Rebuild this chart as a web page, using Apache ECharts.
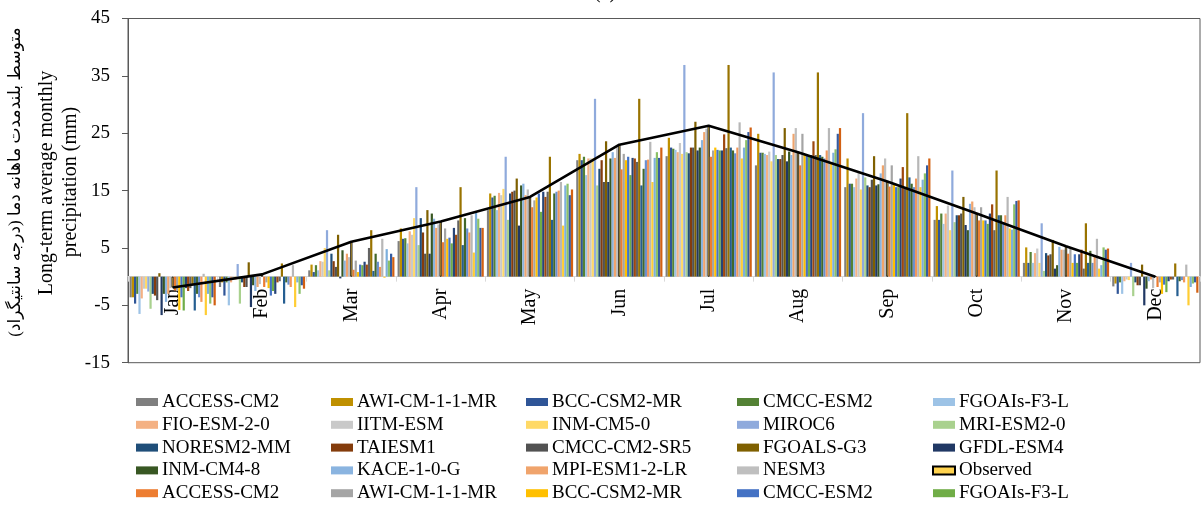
<!DOCTYPE html>
<html>
<head>
<meta charset="utf-8">
<script src="https://cdn.jsdelivr.net/npm/echarts@6/dist/echarts.min.js"></script>
<style>
html,body{margin:0;padding:0;background:#fff;}
#chart{width:1201px;height:506px;}
</style>
</head>
<body>
<div id="chart"></div>
<script>
// ---- data ----
const months = ['Jan','Feb','Mar','Apr','May','Jun','Jul','Aug','Sep','Oct','Nov','Dec'];
const modelNames = ['ACCESS-CM2','AWI-CM-1-1-MR','BCC-CSM2-MR','CMCC-ESM2','FGOAIs-F3-L','FIO-ESM-2-0','IITM-ESM','INM-CM5-0','MIROC6','MRI-ESM2-0','NORESM2-MM','TAIESM1','CMCC-CM2-SR5','FGOALS-G3','GFDL-ESM4','INM-CM4-8','KACE-1-0-G','MPI-ESM1-2-LR','NESM3'];
const observed = [-1.9, 0.4, 6.1, 9.6, 13.9, 23.0, 26.3, 21.7, 16.6, 11.0, 5.3, 0];
const yTicks = [-15, -5, 5, 15, 25, 35, 45];

// per month: first 19 values = model set 1, next 19 values = model set 2
const jan = [-3.6,-3.6,-4.7,-3.0,-6.5,-3.8,-2.1,-2.1,-2.6,-5.6,-3.0,-3.3,-4.1,0.6,-6.7,-3.0,-4.4,-3.0,-2.0,
             -2.4,-2.5,-5.8,-3.6,-5.9,-2.0,-2.5,-2.0,-1.5,-5.9,-3.0,-3.6,-4.4,0.5,-6.7,-3.0,-4.7,-3.6,-5.0];
const feb = [-1.8,-1.0,-3.3,-1.0,-5.0,-1.0,-0.5,-0.5,2.2,-4.7,-1.0,-1.8,-1.8,2.5,-5.3,-1.5,-2.5,-1.8,-1.3,
             -1.8,-1.0,-2.0,-3.3,-2.5,-3.0,-1.0,-0.8,2.3,-4.7,-1.0,-1.4,-1.8,2.0,-5.3,-1.0,-3.0,-1.5,-2.1];
const mar = [1.1,2.1,0.8,2.0,1.1,2.7,2.6,5.0,8.1,1.1,4.0,2.7,1.7,7.3,-0.3,4.6,2.8,4.0,3.4,
             1.2,2.8,0.8,2.1,2.0,2.6,2.1,5.0,8.1,1.0,4.0,2.6,1.7,6.6,-0.2,4.8,2.8,4.0,3.4];
const apr = [6.2,8.4,6.6,6.7,5.8,7.9,7.3,10.2,15.6,5.5,10.2,7.7,4.0,11.6,4.0,11.0,10.1,8.5,9.1,
             6.0,8.4,6.6,6.8,5.8,8.5,7.3,9.8,15.6,5.5,10.2,8.4,7.7,10.7,4.2,11.2,10.1,8.5,8.5];
const may = [11.6,14.5,13.8,14.1,11.6,14.6,14.2,15.3,20.9,9.9,14.5,14.8,15.0,17.1,8.9,15.9,16.2,14.2,15.2,
             12.1,13.3,13.8,14.5,11.3,14.8,13.9,14.8,20.9,9.9,14.5,14.8,15.0,16.5,8.9,15.9,16.2,14.2,15.2];
const jun = [20.3,21.4,20.3,20.9,17.7,20.6,20.6,20.6,31.0,15.9,18.8,20.3,16.5,23.6,16.5,20.6,21.7,20.7,22.9,
             18.7,21.4,20.3,20.9,17.7,20.7,20.6,20.0,31.0,15.9,18.8,20.3,20.4,23.5,16.5,20.7,21.7,20.7,22.5];
const jul = [21.0,24.2,22.5,22.3,22.1,21.7,23.3,21.4,36.9,21.7,21.5,22.5,22.5,27.0,22.0,22.5,23.8,25.2,25.8,
             20.9,22.0,22.5,22.1,22.0,22.0,24.8,22.4,36.9,22.5,22.0,21.5,22.5,26.9,20.6,22.5,23.8,25.2,26.0];
const aug = [19.4,24.9,21.6,21.6,21.4,21.2,21.8,20.1,35.6,21.2,20.5,20.5,21.2,25.9,20.1,21.8,21.2,24.9,25.9,
             19.4,24.9,21.4,21.2,21.2,21.2,23.6,21.2,35.6,21.2,20.9,20.6,22.0,25.9,20.0,21.6,22.2,24.9,25.9];
const sep = [15.6,20.6,16.2,16.2,15.6,17.1,18.2,15.2,28.5,17.3,15.9,15.6,16.9,21.0,15.9,16.1,18.0,19.4,20.6,
             15.7,19.4,16.2,15.6,15.6,17.1,19.1,15.3,28.5,17.3,16.2,15.6,17.1,21.0,15.6,16.9,18.0,19.4,20.6];
const oct = [9.9,12.3,9.9,11.0,9.2,11.0,12.4,8.1,18.5,9.5,10.7,10.7,11.0,13.9,9.0,8.1,12.7,13.1,12.1,
             9.8,12.1,9.8,9.8,9.2,11.0,12.6,8.1,18.5,10.7,10.7,9.2,10.7,13.9,8.4,8.2,12.6,13.2,13.3];
const nov = [2.4,5.1,2.4,4.3,2.4,4.1,4.9,2.4,9.3,1.0,4.1,3.7,3.9,6.4,1.4,2.0,5.2,4.7,4.7,
             4.0,4.9,2.4,3.9,2.4,3.9,4.7,1.4,9.3,2.4,4.5,2.4,3.5,6.6,1.4,2.0,5.1,4.7,4.9];
const dec = [-1.7,-1.2,-3.0,-1.0,-3.0,-0.8,-0.5,-0.6,2.4,-3.4,-1.0,-1.5,-1.5,2.1,-5.0,-2.1,-0.8,-0.5,-2.0,
             -1.8,-1.0,-3.0,-1.4,-2.7,-0.8,-0.5,-0.5,2.3,-3.4,-0.8,-0.6,-1.0,2.1,-5.0,-1.8,-1.2,-1.0,-2.8];

// ---- styles ----
const colorsSet1 = ['#7f7f7f','#bf9000','#2f5597','#548235','#9dc3e6','#f4b183','#c9c9c9','#ffd966','#8faadc','#a9d18e','#1f4e79','#843c0c','#525252','#7f6000','#203864','#385723','#8ab4e0','#f0a46c','#bfbfbf'];
const colorsSet2 = ['#ed7d31','#a5a5a5','#ffc000','#4472c4','#70ad47','#264478','#9e480e','#636363','#997300','#255e91','#43682b','#698ed0','#f1975a','#b7b7b7','#ffcd33','#7cafdd','#8cc168','#335aa1','#d26012'];

const monthly = [jan,feb,mar,apr,may,jun,jul,aug,sep,oct,nov,dec];
const FONT = 'Liberation Serif, "Times New Roman", DejaVu Serif, serif';

const Y_MIN = -15, Y_MAX = 45;
const GRID_TOP = 18.5, GRID_BOTTOM = 143.3, H = 506;
const plotH = H - GRID_TOP - GRID_BOTTOM;
const zeroOffset = -plotH * (0 - Y_MIN) / (Y_MAX - Y_MIN);

const series = [];
const allNames = [];
modelNames.forEach((n, k) => {
  series.push({name:n, type:'bar', barGap:'0%', barCategoryGap:'3.5%',
    itemStyle:{color:colorsSet1[k]}, data: monthly.map(m => m[k])});
  allNames.push(n);
});
series.push({name:'Observed', type:'bar', barGap:'0%', barCategoryGap:'3.5%',
  itemStyle:{color:'#ffd34f', borderColor:'#000', borderWidth:0.8}, data: observed.slice()});
allNames.push('Observed');
modelNames.forEach((n, k) => {
  const nm = n + '\u200B';
  series.push({name:nm, type:'bar', barGap:'0%', barCategoryGap:'3.5%',
    itemStyle:{color:colorsSet2[k]}, data: monthly.map(m => m[19 + k])});
  allNames.push(nm);
});
series.push({name:'Observed line', type:'line', data: observed.slice(), symbol:'none',
  lineStyle:{color:'#000', width:2.6}, z:10, silent:true});

// legend: 25 visible entries, 5 columns, row-major
const legendNames = allNames.slice(0, 25);
const colX = [136, 331, 526, 737, 932];
const legends = colX.map((x, c) => ({
  left: x, top: 392.5, orient:'vertical', padding:0, itemGap:3.8,
  itemWidth:22, itemHeight:8, icon:'rect', selectedMode:false,
  textStyle:{fontFamily:FONT, fontSize:19, lineHeight:19, color:'#000', padding:[0,0,0,-1]},
  data: [0,1,2,3,4].map(r => legendNames[r*5 + c])
}));

const chart = echarts.init(document.getElementById('chart'), null, {renderer:'canvas'});
chart.setOption({
  animation:false,
  backgroundColor:'#fff',
  grid:{left:128, right:1, top:GRID_TOP, bottom:GRID_BOTTOM, show:true, borderColor:'#595959', borderWidth:1, backgroundColor:'transparent'},
  legend: legends,
  xAxis:{type:'category', data:months, boundaryGap:true, position:'bottom', offset: zeroOffset,
    axisLine:{onZero:false, lineStyle:{color:'#d9d9d9', width:1}},
    axisTick:{show:true, length:5, lineStyle:{color:'#d9d9d9'}},
    axisLabel:{rotate:90, margin:12, fontFamily:FONT, fontSize:20, color:'#000'},
    splitLine:{show:false}},
  yAxis:{type:'value', min:Y_MIN, max:Y_MAX,
    axisLine:{show:true, lineStyle:{color:'#595959'}},
    axisTick:{show:true, length:6, customValues:yTicks, lineStyle:{color:'#595959'}},
    axisLabel:{customValues:yTicks, margin:18, fontFamily:FONT, fontSize:19, color:'#000'},
    splitLine:{show:false}},
  graphic:[
    {type:'text', x:605, y:3, style:{text:'(a)', font:'20px ' + FONT, textAlign:'center', textVerticalAlign:'bottom', fill:'#000'}},
    {type:'text', x:16, y:182, rotation:Math.PI/2, style:{text:'متوسط بلندمدت ماهانه دما (درجه سانتیگراد)', font:'17px Liberation Serif, DejaVu Sans, sans-serif', textAlign:'center', textVerticalAlign:'middle', fill:'#000'}},
    {type:'text', x:47, y:183, rotation:Math.PI/2, style:{text:'Long-term average monthly', font:'20px ' + FONT, textAlign:'center', textVerticalAlign:'middle', fill:'#000'}},
    {type:'text', x:71, y:182, rotation:Math.PI/2, style:{text:'precipitation (mm)', font:'20px ' + FONT, textAlign:'center', textVerticalAlign:'middle', fill:'#000'}}
  ],
  series: series
});
</script>
</body>
</html>
